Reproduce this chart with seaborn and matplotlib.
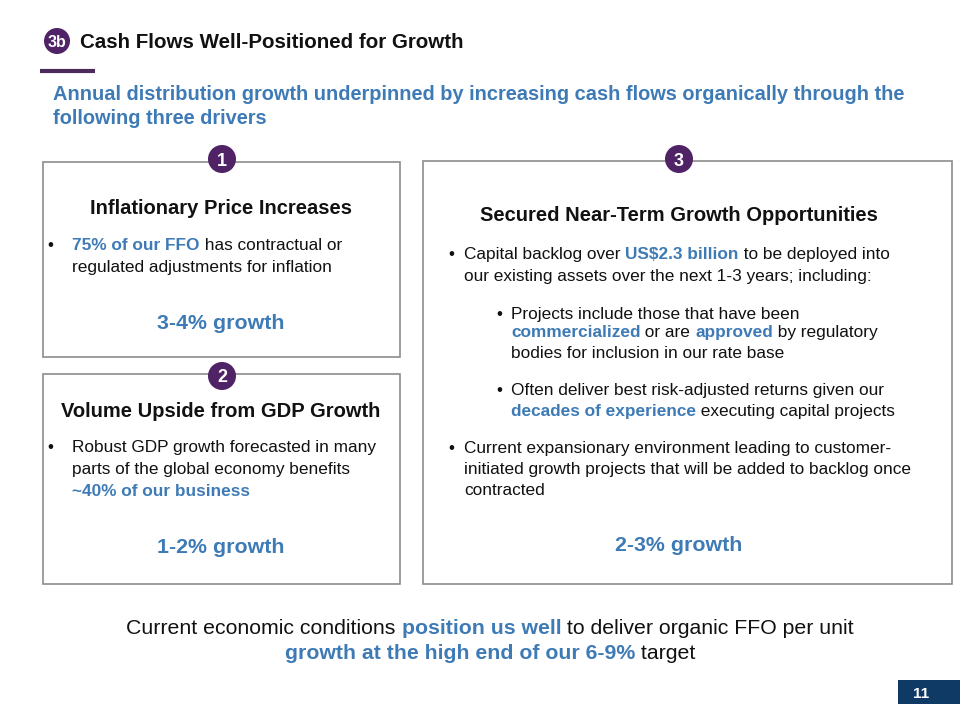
import matplotlib
matplotlib.use("Agg")
import matplotlib.pyplot as plt
import seaborn as sns
from matplotlib.patches import Rectangle, Circle

sns.set_theme(style="white")
plt.rcParams['font.family'] = ['Liberation Sans', 'DejaVu Sans']

BLUE = "#3E7BB6"
PURPLE = "#4F2366"
BLACK = "#111111"
GRAY = "#8C8C8C"
NAVY = "#0F3A66"

# ---- text content ----
badge_label = "3b"
title = "Cash Flows Well-Positioned for Growth"
subtitle_lines = ["Annual distribution growth underpinned by increasing cash flows organically through the",
                  "following three drivers"]
driver_numbers = ["1", "2", "3"]
driver_titles = ["Inflationary Price Increases", "Volume Upside from GDP Growth",
                 "Secured Near-Term Growth Opportunities"]
driver_growth = ["3-4% growth", "1-2% growth", "2-3% growth"]
page_number = "11"

fig = plt.figure(figsize=(9.6, 7.2), dpi=100)
ax = fig.add_axes([0, 0, 1, 1])
ax.set_xlim(0, 960)
ax.set_ylim(720, 0)
ax.axis("off")
fig.patch.set_facecolor("white")
r = fig.canvas.get_renderer()


def seg_width(s, size, weight):
    t1 = ax.text(0, 0, "x" + s + "x", fontsize=size, fontweight=weight)
    t2 = ax.text(0, 0, "xx", fontsize=size, fontweight=weight)
    w = t1.get_window_extent(r).width - t2.get_window_extent(r).width
    t1.remove(); t2.remove()
    return w


def base(y, size):
    # convert visual cap-centre y to baseline y
    return y + 0.36 * size * 100 / 72


def txt(x, y, s, size, color=BLACK, weight="normal", ha="left", **kw):
    ax.text(x, base(y, size), s, fontsize=size, fontweight=weight, color=color,
            ha=ha, va="baseline", **kw)


def runs(x, y, segs, size, ha="left"):
    widths = [seg_width(s, size, w) for s, c, w in segs]
    total = sum(widths)
    cx = x - total / 2 if ha == "center" else x
    for (s, c, w), wd in zip(segs, widths):
        txt(cx, y, s, size, color=c, weight=w)
        cx += wd


def badge(x, y, label, rad=14, size=13):
    ax.add_patch(Circle((x, y), rad, facecolor=PURPLE, edgecolor="none", zorder=5))
    ax.text(x, base(y, size), label, color="white", fontsize=size, fontweight="bold",
            ha="center", va="baseline", zorder=6)


# header
badge(57, 41, badge_label, rad=13, size=11.5)
txt(80, 41, title, 14.8, weight="bold")
ax.plot([40, 95], [71, 71], color="#4B2A5C", lw=3, solid_capstyle="butt")
for i, line in enumerate(subtitle_lines):
    txt(53, 93 + 24 * i, line, 14.4, color=BLUE, weight="bold")

# boxes
boxes = [(43, 162, 357, 195), (43, 374, 357, 210), (423, 161, 529, 423)]
for (bx, by, bw, bh) in boxes:
    ax.add_patch(Rectangle((bx, by), bw, bh, facecolor="white", edgecolor=GRAY, lw=1.2))

BODY = 12.4
HEAD = 14.5
GROW = 15.4

# box 1
badge(222, 159, driver_numbers[0])
txt(221, 207, driver_titles[0], HEAD, weight="bold", ha="center")
txt(47, 244, "•", BODY)
runs(72, 244, [("75% of our FFO", BLUE, "bold"), (" has contractual or", BLACK, "normal")], BODY)
runs(72, 266, [("regulated adjustments for inflation", BLACK, "normal")], BODY)
txt(221, 321, driver_growth[0], GROW, color=BLUE, weight="bold", ha="center")

# box 2
badge(222, 376, driver_numbers[1])
txt(221, 410, driver_titles[1], HEAD, weight="bold", ha="center")
txt(47, 446, "•", BODY)
runs(72, 446, [("Robust GDP growth forecasted in many", BLACK, "normal")], BODY)
runs(72, 468, [("parts of the global economy benefits", BLACK, "normal")], BODY)
runs(72, 490, [("~40% of our business", BLUE, "bold")], BODY)
txt(221, 545, driver_growth[1], GROW, color=BLUE, weight="bold", ha="center")

# box 3
badge(679, 159, driver_numbers[2])
txt(679, 214, driver_titles[2], HEAD, weight="bold", ha="center")
txt(448, 253, "•", BODY)
runs(464, 253, [("Capital backlog over ", BLACK, "normal"), ("US$2.3 billion", BLUE, "bold"),
                (" to be deployed into", BLACK, "normal")], BODY)
runs(464, 275, [("our existing assets over the next 1-3 years; including:", BLACK, "normal")], BODY)
txt(496, 313, "•", BODY)
runs(511, 313, [("Projects include those that have been", BLACK, "normal")], BODY)
runs(511, 331, [("commercialized", BLUE, "bold"), (" or are ", BLACK, "normal"), ("approved", BLUE, "bold"),
                (" by regulatory", BLACK, "normal")], BODY)
runs(511, 352, [("bodies for inclusion in our rate base", BLACK, "normal")], BODY)
txt(496, 389, "•", BODY)
runs(511, 389, [("Often deliver best risk-adjusted returns given our", BLACK, "normal")], BODY)
runs(511, 410, [("decades of experience", BLUE, "bold"), (" executing capital projects", BLACK, "normal")], BODY)
txt(448, 447, "•", BODY)
runs(464, 447, [("Current expansionary environment leading to customer-", BLACK, "normal")], BODY)
runs(464, 468, [("initiated growth projects that will be added to backlog once", BLACK, "normal")], BODY)
runs(464, 489, [("contracted", BLACK, "normal")], BODY)
txt(679, 543, driver_growth[2], GROW, color=BLUE, weight="bold", ha="center")

# bottom statement
BOT = 15.3
runs(490, 626, [("Current economic conditions ", BLACK, "normal"), ("position us well", BLUE, "bold"),
                (" to deliver organic FFO per unit", BLACK, "normal")], BOT, ha="center")
runs(490, 651, [("growth at the high end of our 6-9%", BLUE, "bold"), (" target", BLACK, "normal")], BOT, ha="center")

# page number
ax.add_patch(Rectangle((898, 680), 62, 24, facecolor=NAVY, edgecolor="none"))
txt(913, 692, page_number, 11, color="white", weight="bold")

fig.savefig("out.png", dpi=100)
